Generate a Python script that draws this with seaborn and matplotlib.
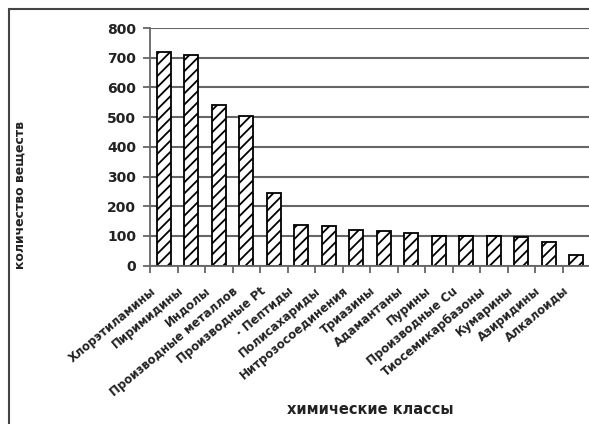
import matplotlib
matplotlib.use("Agg")
import matplotlib.pyplot as plt
import matplotlib.transforms as mtransforms
import seaborn as sns
import pandas as pd
from matplotlib.patches import Rectangle

# Данные
classes = [
    "Хлорэтиламины", "Пиримидины", "Индолы", "Производные металлов",
    "Производные Pt", "· Пептиды", "Полисахариды", "Нитрозосоединения",
    "Триазины", "Адамантаны", "Пурины", "Производные Cu",
    "Тиосемикарбазоны", "Кумарины", "Азиридины", "Алкалоиды",
]
counts = [718, 709, 541, 505, 243, 137, 133, 119, 116, 111, 100, 100, 100, 95, 79, 37]
y_ticks = [0, 100, 200, 300, 400, 500, 600, 700, 800]

df = pd.DataFrame({"класс": classes, "количество": counts})

sns.set_theme(style="white")
plt.rcParams["font.family"] = ["DejaVu Sans"]
plt.rcParams["hatch.linewidth"] = 1.3

fig = plt.figure(figsize=(5.89, 4.24), dpi=100)
ax = fig.add_axes([150 / 589, 1 - 265.6 / 424, 440 / 589, (265.6 - 28) / 424])

sns.barplot(data=df, x="класс", y="количество", ax=ax, color="white",
            edgecolor="black", linewidth=1.3, hatch="///", width=0.5,
            saturation=1)

ax.set_ylim(0, 800)
ax.set_xlim(-0.5, len(classes) - 0.5)
ax.set_yticks(y_ticks)
ax.set_yticklabels([str(v) for v in y_ticks], fontsize=10, fontweight="bold", color="#222")
ax.set_axisbelow(True)
ax.yaxis.grid(True, color="#666", linewidth=1.5)
ax.xaxis.grid(False)

for side in ["top", "right"]:
    ax.spines[side].set_visible(False)
for side in ["left", "bottom"]:
    ax.spines[side].set_color("#666")
    ax.spines[side].set_linewidth(1.3)

ax.tick_params(axis="y", left=True, length=5, width=1.3, color="#666", pad=5)
ax.set_xticks(range(len(classes)))
ax.set_xticklabels(classes, rotation=40, ha="right", rotation_mode="anchor",
                   fontsize=8.5, fontweight="bold", color="#222")
ax.tick_params(axis="x", which="major", length=0, pad=12)
ax.set_xticks([i - 0.5 for i in range(len(classes) + 1)], minor=True)
ax.tick_params(axis="x", which="minor", bottom=True, length=5, width=1.3, color="#666")

# подписи в оригинале сдвинуты немного влево от центра столбца
shift = mtransforms.ScaledTranslation(-0.14, -0.02, fig.dpi_scale_trans)
for lbl in ax.get_xticklabels():
    lbl.set_transform(lbl.get_transform() + shift)

ax.set_xlabel("")
ax.set_ylabel("")
fig.text(20 / 589, 1 - 195 / 424, "количество веществ", rotation=90,
         ha="center", va="center", fontsize=9, fontweight="bold", color="#222")
fig.text(370 / 589, 1 - 410 / 424, "химические классы",
         ha="center", va="center", fontsize=10.5, fontweight="bold", color="#222")

# рамка вокруг диаграммы (видны верхний и левый края)
fig.patches.append(Rectangle((9 / 589, -0.2), 1.2, 1 - 9 / 424 + 0.2,
                             transform=fig.transFigure, fill=False,
                             edgecolor="#444", linewidth=1.5))

fig.savefig("out.png", dpi=100)
